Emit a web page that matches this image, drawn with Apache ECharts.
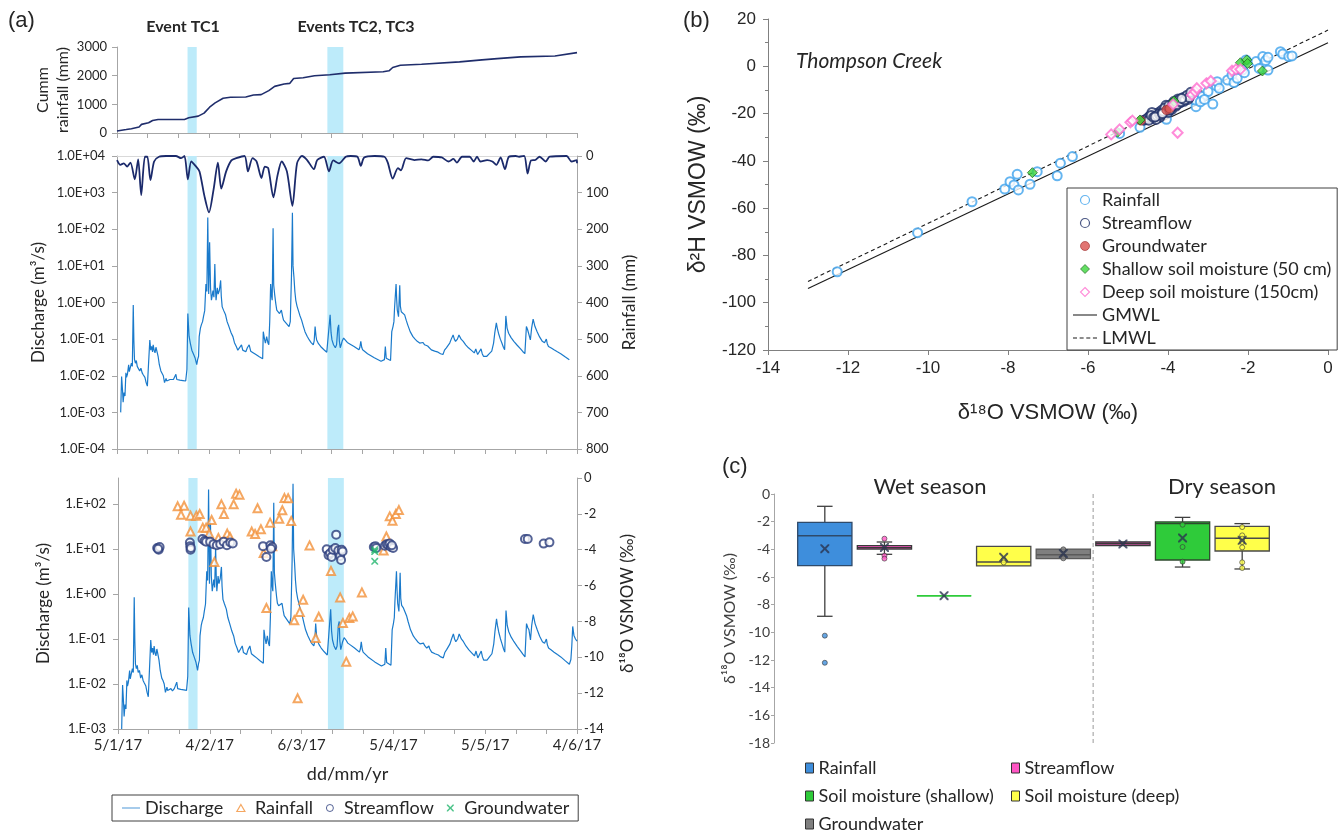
<!DOCTYPE html>
<html><head><meta charset="utf-8">
<script src="https://cdn.jsdelivr.net/npm/echarts@6.0.0/dist/echarts.min.js"></script>
<style>html,body{margin:0;padding:0;background:#fff}#chart{width:1343px;height:834px}</style>
</head><body><div id="chart"></div><script>
// ---------- Panel (a): Thompson Creek hydrology, days counted from 5 Jan 2017 ----------
const eventBands = [[23, 26], [68.6, 73.8]];

const cumRainfall = [[0,70],[3,120],[4.7,150],[7.2,208],[8,300],[8.5,357],[10.3,357],[11.6,438],[13.4,473],[22,473],[23.4,530],[26.5,588],[28.4,692],[30.2,900],[32,1050],[34.6,1211],[37,1246],[42,1257],[44.5,1327],[47,1338],[49.5,1477],[51.4,1627],[54.5,1708],[56.3,1730],[57.6,1903],[60.7,1927],[64.4,1996],[69.4,2030],[74.4,2088],[86.8,2135],[88.7,2170],[89.9,2285],[92.4,2365],[99.3,2400],[111.7,2480],[119,2550],[124,2596],[131.6,2654],[142.8,2688],[150,2803]];

const dailyRainfall = [[0,11],[1.1,24],[2.2,20],[3.3,29],[4.4,18],[5.8,64],[6.9,9],[7.9,107],[9.1,2],[9.9,2],[10.9,66],[12.1,15],[13.7,2],[16,0],[19.2,0],[20.9,6],[22,0],[23.1,64],[24.2,15],[25.6,27],[26.9,42],[28.5,109],[30,154],[31.5,91],[32.9,18],[34,89],[35.6,42],[37.3,12],[38.9,6],[41.6,0],[42.7,42],[44.2,6],[45.5,15],[47.1,60],[48.2,29],[49.3,33],[51,113],[52.3,55],[53.7,15],[55.4,42],[57.2,136],[58.7,20],[60.3,0],[62,11],[64.2,36],[65.3,11],[67.5,2],[69.1,42],[70.5,12],[72.4,20],[74.6,2],[76.2,0],[78.4,2],[79.5,27],[80.6,4],[84,0],[87.2,2],[88.3,18],[89.9,62],[91.6,33],[92.6,39],[94.3,6],[97,11],[99.3,9],[101.5,12],[103.1,2],[105.9,4],[108.1,15],[109.7,8],[110.8,18],[112.5,2],[115,2],[116.3,15],[117.4,2],[118.5,15],[120.7,11],[122.4,15],[123.7,24],[125.1,4],[126.5,36],[127.8,2],[130,0],[131.1,2],[132.8,0],[133.9,48],[135,12],[136.4,11],[137.8,2],[139.8,15],[141.1,2],[146.6,0],[148.2,15],[149.9,11],[150,20]];

const discharge = [[1.2,0.001],[1.5,0.0095],[1.8,0.004],[2.0,0.0019],[2.3,0.0035],[2.6,0.0028],[2.9,0.012],[3.1,0.009],[3.4,0.011],[3.8,0.02],[4.0,0.013],[4.3,0.012],[4.7,0.022],[5.0,0.018],[5.3,0.85],[5.5,0.09],[5.7,0.028],[6.0,0.022],[6.3,0.026],[6.6,0.018],[7.0,0.02],[7.4,0.0135],[7.8,0.016],[8.2,0.012],[8.6,0.0105],[9.1,0.009],[9.5,0.0065],[9.9,0.0052],[10.4,0.0048],[10.7,0.095],[11.0,0.05],[11.3,0.063],[11.6,0.045],[11.8,0.07],[12.1,0.05],[12.4,0.042],[12.7,0.06],[12.9,0.063],[13.2,0.04],[13.4,0.034],[13.8,0.02],[14.3,0.0135],[14.7,0.012],[15.1,0.01],[15.5,0.0065],[16.0,0.0085],[16.2,0.0072],[16.8,0.0065],[17.3,0.0079],[17.8,0.007],[18.4,0.0079],[19.2,0.011],[19.5,0.0079],[20.5,0.0076],[21.5,0.0074],[22.4,0.0072],[22.8,0.0148],[23.1,0.5],[23.5,0.12],[23.9,0.078],[24.4,0.05],[25,0.038],[25.5,0.03],[26,0.02],[26.3,0.028],[26.6,0.034],[26.8,0.117],[27.2,0.2],[27.5,0.245],[27.9,0.3],[28.2,0.41],[28.6,0.6],[29,3.2],[29.3,2],[29.6,210],[29.9,1.7],[30.2,44],[30.5,2.5],[30.8,1.15],[31.3,2.1],[31.6,1.4],[31.9,11.2],[32.1,2.5],[32.3,1.15],[32.7,2.5],[33,1.7],[33.4,2.2],[33.8,4.0],[34.0,1.5],[34.3,0.76],[34.8,0.6],[35.4,0.46],[35.9,0.3],[36.5,0.22],[37.2,0.15],[37.8,0.117],[38.3,0.08],[38.9,0.063],[39.4,0.05],[39.8,0.047],[40.6,0.07],[41.0,0.05],[41.4,0.051],[42.0,0.045],[42.5,0.058],[43.1,0.07],[43.6,0.047],[44.5,0.042],[45.3,0.038],[46.4,0.033],[47.5,0.029],[47.7,0.16],[48.1,0.1],[48.4,0.078],[48.8,0.117],[49.2,0.08],[49.5,0.07],[49.8,0.3],[50.1,3.2],[50.4,1.5],[50.6,1.15],[50.9,107],[51.1,3],[51.4,1.7],[51.8,0.9],[52.1,0.62],[52.5,0.55],[53,0.5],[53.6,0.62],[54.0,0.42],[54.3,0.33],[54.8,0.3],[55.2,0.27],[55.7,0.25],[56.1,0.22],[56.5,0.3],[56.9,5.5],[57.2,280],[57.4,10],[57.7,4.9],[58.0,2],[58.3,1.15],[58.7,0.8],[59.1,0.62],[59.6,0.45],[60.2,0.33],[60.8,0.22],[61.3,0.16],[62.0,0.12],[62.7,0.095],[63.3,0.08],[64.0,0.07],[64.3,0.09],[64.6,0.22],[64.9,0.12],[65.1,0.095],[65.7,0.075],[66.4,0.063],[67.4,0.052],[68.4,0.044],[69,0.042],[69.5,0.46],[69.8,0.15],[70.1,0.095],[70.6,0.07],[71.2,0.058],[71.6,0.07],[72.0,0.2],[72.3,0.245],[72.5,0.09],[72.8,0.058],[73.1,0.07],[73.4,0.087],[73.9,0.107],[74.5,0.095],[75.1,0.081],[75.9,0.074],[77.3,0.063],[78.9,0.051],[79.2,0.06],[79.5,0.087],[79.8,0.06],[80.1,0.051],[81.7,0.04],[83.9,0.031],[86.1,0.025],[87.2,0.0275],[87.5,0.063],[87.8,0.03],[88,0.0275],[89.2,0.026],[89.6,0.16],[90,0.22],[90.3,0.3],[90.5,0.69],[91,3.2],[91.2,1.2],[91.4,0.62],[91.8,0.41],[92.2,2.95],[92.4,0.8],[92.7,0.56],[93.2,0.5],[93.8,0.46],[94.3,0.33],[94.8,0.245],[95.6,0.16],[96.5,0.117],[97.2,0.1],[97.9,0.087],[98.3,0.095],[98.7,0.078],[99.3,0.075],[99.8,0.081],[100.3,0.07],[100.9,0.063],[101.3,0.065],[101.6,0.07],[101.9,0.06],[102.5,0.051],[103.6,0.047],[104.7,0.044],[105.5,0.04],[106.3,0.038],[106.8,0.05],[107.4,0.058],[108,0.06],[108.5,0.078],[109.0,0.1],[109.6,0.13],[110.0,0.1],[110.4,0.087],[111.0,0.1],[111.5,0.13],[112.2,0.1],[112.9,0.087],[113.7,0.07],[114.6,0.058],[115.5,0.05],[116.5,0.042],[117,0.054],[117.3,0.045],[117.6,0.038],[118.2,0.04],[118.7,0.054],[119.1,0.04],[119.5,0.034],[120.0,0.036],[120.6,0.034],[121.4,0.04],[122.2,0.047],[122.8,0.078],[123.2,0.15],[123.7,0.28],[124.0,0.2],[124.4,0.145],[125.0,0.1],[125.5,0.078],[126.0,0.06],[126.4,0.051],[126.8,0.43],[127.2,0.2],[127.7,0.145],[128.5,0.11],[129.4,0.087],[130.5,0.068],[131.6,0.054],[132.3,0.046],[133,0.04],[133.5,0.22],[133.9,0.18],[134.3,0.16],[134.8,0.095],[135.2,0.2],[135.7,0.35],[136.3,0.22],[137,0.16],[137.8,0.115],[138.7,0.087],[139.4,0.08],[140,0.1],[140.3,0.075],[140.7,0.063],[141.6,0.057],[142.5,0.051],[143.6,0.045],[144.7,0.04],[146.1,0.033],[147.5,0.0275],[148.0,0.035],[148.3,0.07],[148.6,0.19],[149.0,0.12],[149.5,0.1],[150,0.09]];
const dischargeRecordEnd = 147.5;

// δ18O of samples (‰), by sampling day
const rainfallIso = [[19.5,-1.58],[21.6,-1.55],[20.6,-2.05],[23.7,-2.1],[25.6,-2.1],[26.7,-2.01],[23.7,-2.99],[30.6,-2.34],[33.8,-1.47],[34.6,-2.01],[37.8,-1.47],[38.6,-0.88],[39.7,-0.93],[27.7,-2.77],[28.8,-2.77],[29.8,-3.1],[32.8,-3.35],[35.7,-3.1],[36.6,-3.29],[31.5,-4.68],[45.6,-1.69],[43.7,-2.99],[44.8,-3.12],[46.7,-2.86],[49.7,-2.49],[52.7,-2.27],[53.7,-1.8],[54.4,-1.12],[55.6,-1.13],[56.6,-2.4],[47.6,-4.18],[48.5,-7.25],[50.4,-3.81],[62.6,-3.76],[60.5,-6.79],[59.4,-7.47],[57.6,-7.94],[65.6,-7.74],[64.6,-8.93],[58.7,-12.29],[69.6,-5.19],[72.6,-6.66],[73.5,-8.09],[74.6,-10.25],[75.6,-7.81],[76.7,-7.72],[79.7,-6.38],[87.7,-3.26],[86.8,-4.04],[88.8,-2.14],[89.7,-2.38],[90.8,-2.01],[91.8,-1.79]];
const streamflowIso = [[12.8,-3.9],[13.3,-4.0],[13.6,-3.85],[13.1,-3.95],[23.5,-3.6],[23.6,-3.8],[23.7,-4.0],[23.8,-3.9],[27.6,-3.4],[28.3,-3.5],[28.8,-3.55],[30.1,-3.55],[31.2,-3.7],[32.3,-3.75],[33.4,-3.7],[34.5,-3.55],[35.6,-3.75],[36.7,-3.6],[37.5,-3.65],[47.4,-3.8],[48.5,-4.41],[49.8,-3.75],[50.4,-3.85],[50.0,-3.95],[68.2,-3.98],[68.8,-4.3],[69.3,-4.2],[69.8,-4.4],[70.2,-4.0],[71,-3.9],[71.3,-3.16],[72,-4.05],[72.6,-4.35],[72.9,-4.57],[73.1,-4.0],[73.4,-4.1],[83.6,-3.85],[84.1,-3.8],[84.4,-3.9],[87.2,-3.78],[87.8,-3.7],[88.3,-3.72],[88.8,-3.65],[89.2,-3.85],[89.9,-3.9],[89.5,-3.75],[133,-3.4],[133.9,-3.4],[139.1,-3.66],[141,-3.59]];
const groundwaterIso = [[83.9,-4.0],[83.9,-4.1],[83.9,-4.65]];

// ---------- Panel (b): dual-isotope plot, [δ18O, δ2H] ----------
const rainfallB = [[-12.27,-86.9],[-10.26,-70.4],[-8.9,-57.3],[-8.08,-51.9],[-7.95,-48.8],[-7.77,-45.7],[-7.85,-50.2],[-7.74,-52.3],[-7.45,-49.9],[-7.27,-44.6],[-6.77,-46.3],[-6.69,-41.0],[-6.39,-38.2],[-5.21,-28.4],[-4.70,-25.8],[-4.04,-22.4],[-3.99,-19.2],[-3.30,-17.1],[-3.32,-14.3],[-3.14,-12.8],[-3.0,-10.7],[-2.88,-16.0],[-2.79,-8.3],[-2.77,-6.5],[-2.51,-5.8],[-2.40,-3.7],[-2.35,-6.9],[-2.27,-5.1],[-2.14,-1.6],[-2.09,-2.7],[-2.05,2.7],[-1.80,2.0],[-1.72,-0.9],[-1.63,4.1],[-1.56,2.4],[-1.50,3.8],[-1.50,-1.6],[-1.19,6.2],[-1.13,5.2],[-0.98,4.1],[-0.90,4.4],[-2.72,-9.3],[-3.19,-15.0],[-3.09,-14.0],[-3.53,-12.8]];
const streamflowB = [[-4.6,-22.8],[-4.55,-22.5],[-4.5,-21.8],[-4.45,-21],[-4.4,-22],[-4.35,-20.5],[-4.3,-20],[-4.25,-21],[-4.2,-19.2],[-4.15,-18.5],[-4.1,-19.5],[-4.05,-18],[-4.0,-17.5],[-3.95,-17],[-3.9,-16.5],[-3.85,-16],[-3.8,-15.5],[-3.75,-15],[-3.7,-14.5],[-3.65,-14],[-3.6,-13.5],[-3.55,-13],[-3.5,-12.5],[-3.45,-12],[-3.4,-11.5],[-4.2,-21.5],[-4.3,-22.5],[-4.0,-19.5],[-3.9,-18.2],[-3.8,-16.8],[-3.7,-15.5],[-3.6,-14.8],[-3.75,-13.8],[-3.85,-14.8],[-4.05,-16.5],[-4.4,-19.5],[-3.5,-14],[-4.48,-22.8],[-4.42,-20.8],[-4.36,-21.6],[-4.28,-20.8],[-4.22,-20.2],[-4.18,-20.6],[-4.12,-19.0],[-4.08,-17.6],[-4.02,-18.6],[-3.98,-16.6],[-3.93,-17.8],[-3.88,-15.6],[-3.82,-15.2],[-3.78,-16.2],[-3.72,-14.2],[-3.68,-15.0],[-3.62,-13.2],[-3.58,-14.2],[-3.52,-12.2],[-3.47,-13.2],[-3.43,-11],[-4.32,-21.4],[-4.14,-20],[-3.96,-18.4],[-3.66,-13.6]];
const groundwaterB = [[-4.68,-23.0],[-4.04,-18.5],[-3.96,-17.8]];
const shallowSoilB = [[-7.39,-45.0],[-5.26,-27.9],[-4.70,-22.7],[-3.85,-14.7],[-2.19,1.5],[-2.03,2.7],[-2.01,1.2],[-1.64,-2.0]];
const deepSoilB = [[-5.42,-28.8],[-5.21,-26.7],[-4.94,-23.7],[-4.89,-23.0],[-3.87,-16.1],[-3.76,-28.1],[-3.40,-12.1],[-3.32,-10.7],[-3.28,-9.3],[-3.04,-7.2],[-2.93,-6.2],[-2.40,-1.9],[-2.30,-1.3],[-2.19,-1.3]];
const gmwl = [[-13, -94], [0, 10]];
const lmwl = [[-13, -91], [0, 15.3]];

// ---------- Panel (c): seasonal δ18O box plots ----------
const boxCategories = ['Rainfall wet','Streamflow wet','Shallow wet','Deep wet','Groundwater wet','Streamflow dry','Shallow dry','Deep dry'];
const seasonBreak = 4.5;
// [category, min, Q1, median, Q3, max]
const rainfallBox = [['Rainfall wet', -8.84, -5.18, -3.01, -2.05, -0.89]];
const streamflowBox = [['Streamflow wet', -4.36, -3.98, -3.88, -3.73, -3.47], ['Streamflow dry', -3.73, -3.73, -3.6, -3.47, -3.47]];
const shallowBox = [['Shallow wet', -7.35, -7.35, -7.35, -7.35, -7.35], ['Shallow dry', -5.28, -4.77, -2.14, -2.02, -1.69]];
const deepBox = [['Deep wet', -5.2, -5.2, -4.92, -3.78, -3.78], ['Deep dry', -5.42, -4.12, -3.2, -2.34, -2.14]];
const groundwaterBox = [['Groundwater wet', -4.67, -4.67, -4.4, -3.98, -3.98]];
const boxMeans = [['Rainfall wet',-3.95],['Streamflow wet',-3.86],['Shallow wet',-7.35],['Deep wet',-4.58],['Groundwater wet',-4.3],['Streamflow dry',-3.61],['Shallow dry',-3.18],['Deep dry',-3.35]];
const rainfallPts = [['Rainfall wet',-10.24],['Rainfall wet',-12.2]];
const streamflowPts = [['Streamflow wet',-3.23],['Streamflow wet',-4.46],['Streamflow wet',-4.67]];
const shallowPts = [['Shallow dry',-2.22],['Shallow dry',-3.83],['Shallow dry',-4.89]];
const deepPts = [['Deep wet',-4.75],['Deep wet',-4.95],['Deep dry',-2.39],['Deep dry',-2.99],['Deep dry',-3.23],['Deep dry',-3.47],['Deep dry',-3.86],['Deep dry',-4.94],['Deep dry',-5.35]];
const groundwaterPts = [['Groundwater wet',-4.0],['Groundwater wet',-4.65]];

// ---------- styling helpers ----------
const FONT = 'Lato, "Open Sans", sans-serif';
const SANS = '"Liberation Sans", Arial, sans-serif';
const TXT = '#262626';
const AX = '#A6A6A6';
const BAND = '#BDEBFA';
const X_SYMBOL = 'path://M0,0L1.6,0L5,3.4L8.4,0L10,0L10,1.6L6.6,5L10,8.4L10,10L8.4,10L5,6.6L1.6,10L0,10L0,8.4L3.4,5L0,1.6Z';
const ICON_LINE = 'path://M0,0H30V1.3H0Z';
const ICON_DASH = 'path://M0,0H5V1.3H0ZM8.3,0H13.3V1.3H8.3ZM16.6,0H21.6V1.3H16.6ZM24.9,0H30V1.3H24.9Z';
const ICON_TRI = 'path://M5,0L10,8.7L0,8.7Z';
const ICON_DIAMOND = 'path://M5,0L10,5L5,10L0,5Z';
const ICON_CIRCLE = 'path://M10,5A5,5,0,1,1,0,5A5,5,0,1,1,10,5Z';

const chart = echarts.init(document.getElementById('chart'), null, {renderer: 'canvas'});

function sciLabel(prefix) {
  return function (v) {
    const l = Math.log10(v), e = Math.round(l);
    if (Math.abs(l - e) > 1e-6) return '';
    return prefix + 'E' + (e < 0 ? '-' : '+') + String(Math.abs(e)).padStart(2, '0');
  };
}
function dayLabel(v) {
  if (Math.round(v) % 30 !== 0) return '';
  const d = new Date(Date.UTC(2017, 0, 5 + Math.round(v)));
  return d.getUTCDate() + '/' + (d.getUTCMonth() + 1) + '/17';
}
function bandArea() {
  return {silent: true, itemStyle: {color: BAND}, data: eventBands.map(b => [{xAxis: b[0]}, {xAxis: b[1]}])};
}
function dayAxis(grid, extra) {
  return Object.assign({
    type: 'value', gridIndex: grid, min: 0, max: 150, interval: 10,
    axisLine: {show: true, onZero: false, lineStyle: {color: AX}},
    axisTick: {show: true, length: 5, lineStyle: {color: AX}},
    axisLabel: {show: false}, splitLine: {show: false}
  }, extra || {});
}
function aYAxis(extra) {
  return Object.assign({
    axisLine: {show: true, onZero: false, lineStyle: {color: AX}},
    axisTick: {show: true, length: 5, lineStyle: {color: AX}},
    axisLabel: {color: TXT, fontFamily: FONT, fontSize: 13, margin: 10},
    splitLine: {show: false},
    nameLocation: 'middle',
    nameTextStyle: {color: TXT, fontFamily: FONT, fontSize: 17}
  }, extra);
}
function makeBoxRenderer(fill, stroke) {
  return function (params, api) {
    const cat = api.value(0);
    const ys = [1, 2, 3, 4, 5].map(i => api.coord([cat, api.value(i)])[1]);
    const cx = api.coord([cat, api.value(1)])[0];
    const band = api.size([1, 0])[0];
    const half = band * 0.455, cap = band * 0.13;
    const whisk = {stroke: '#404040', lineWidth: 1.3};
    const flat = Math.abs(ys[0] - ys[4]) < 0.5;
    const edge = flat ? fill : stroke;
    const kids = [];
    if (!flat) {
      if (Math.abs(ys[4] - ys[3]) > 0.5) {
        kids.push({type: 'line', shape: {x1: cx, y1: ys[4], x2: cx, y2: ys[3]}, style: whisk});
        kids.push({type: 'line', shape: {x1: cx - cap, y1: ys[4], x2: cx + cap, y2: ys[4]}, style: whisk});
      }
      if (Math.abs(ys[0] - ys[1]) > 0.5) {
        kids.push({type: 'line', shape: {x1: cx, y1: ys[1], x2: cx, y2: ys[0]}, style: whisk});
        kids.push({type: 'line', shape: {x1: cx - cap, y1: ys[0], x2: cx + cap, y2: ys[0]}, style: whisk});
      }
    }
    kids.push({type: 'rect', shape: {x: cx - half, y: ys[3], width: 2 * half, height: Math.max(ys[1] - ys[3], 0)},
      style: {fill: fill, stroke: edge, lineWidth: flat ? 1.6 : 1.3}});
    kids.push({type: 'line', shape: {x1: cx - half, y1: ys[2], x2: cx + half, y2: ys[2]}, style: {stroke: edge, lineWidth: 1.5}});
    return {type: 'group', children: kids};
  };
}
function boxSeries(name, data, fill, stroke) {
  return {name: name, type: 'custom', xAxisIndex: 5, yAxisIndex: 6, data: data,
    encode: {x: 0, y: [1, 2, 3, 4, 5]},
    itemStyle: {color: fill, borderColor: stroke},
    renderItem: makeBoxRenderer(fill, stroke), z: 2};
}
function ptsSeries(name, data, fill) {
  return {name: name, type: 'scatter', xAxisIndex: 5, yAxisIndex: 6, data: data, symbol: 'circle', symbolSize: 5,
    itemStyle: {color: fill, borderColor: '#3a3a3a', borderWidth: 0.8}, z: 4};
}
function boxLegendItem(name, fill) {
  return {name: name, icon: 'rect', itemStyle: {color: fill, borderColor: '#333', borderWidth: 1}};
}

const C_COLORS = {
  rain: ['#3E8EDC', '#2E4A6A'], stream: ['#FF55C4', '#3A3A3A'], shallow: ['#2FCB3A', '#2E4A2E'],
  deep: ['#FFFF4A', '#4A4A4A'], gw: ['#7F7F7F', '#5A5A5A']
};
const A_COLORS = {discharge: '#1A7ACB', rain: '#F39139', stream: '#2B3C7C', gw: '#23B56E'};
const B_COLORS = {rain: '#3EA2EC', stream: '#1F2F66', gw: '#D9534F', shallow: '#3CD63C', deep: '#FF6FD0'};

const option = {
  animation: false,
  backgroundColor: '#ffffff',
  textStyle: {fontFamily: FONT, color: TXT},
  grid: [
    {left: 117, top: 47, width: 460, height: 86},
    {left: 117, top: 156, width: 460, height: 293},
    {left: 118, top: 478, width: 459, height: 251},
    {left: 768, top: 19, width: 560, height: 331},
    {left: 795, top: 494, width: 477, height: 249}
  ],
  xAxis: [
    dayAxis(0),
    dayAxis(1),
    dayAxis(1, {position: 'top', axisTick: {show: false}, axisLine: {show: true, onZero: false, lineStyle: {color: '#D9D9D9'}}}),
    dayAxis(2, {axisLabel: {show: true, formatter: dayLabel, color: TXT, fontFamily: FONT, fontSize: 15, margin: 9, showMinLabel: true, showMaxLabel: true},
      name: 'dd/mm/yr', nameLocation: 'middle', nameGap: 36, nameTextStyle: {color: TXT, fontFamily: FONT, fontSize: 18}}),
    {type: 'value', gridIndex: 3, min: -14, max: 0, interval: 2,
      axisLine: {show: true, onZero: false, lineStyle: {color: '#808080'}},
      axisTick: {show: true, length: 5, lineStyle: {color: '#808080'}},
      axisLabel: {color: TXT, fontFamily: SANS, fontSize: 17, margin: 10},
      splitLine: {show: false},
      name: 'δ¹⁸O VSMOW (‰)', nameLocation: 'middle', nameGap: 52,
      nameTextStyle: {color: TXT, fontFamily: SANS, fontSize: 22}},
    {type: 'category', gridIndex: 4, data: boxCategories, show: false, boundaryGap: true},
    {type: 'value', gridIndex: 4, min: -0.5, max: boxCategories.length - 0.5, show: false}
  ],
  yAxis: [
    aYAxis({type: 'value', gridIndex: 0, min: 0, max: 3000, interval: 1000, name: 'Cumm\nrainfall (mm)', nameGap: 40,
      axisLabel: {color: TXT, fontFamily: FONT, fontSize: 13, margin: 10, formatter: v => String(v)},
      nameTextStyle: {color: TXT, fontFamily: FONT, fontSize: 16, lineHeight: 20}}),
    aYAxis({type: 'log', logBase: 10, gridIndex: 1, min: 1e-4, max: 1e4, splitNumber: 8,
      axisLabel: {color: TXT, fontFamily: FONT, fontSize: 13, margin: 12, formatter: sciLabel('1.0')},
      name: 'Discharge (m³/s)', nameGap: 70}),
    aYAxis({type: 'value', gridIndex: 1, position: 'right', inverse: true, min: 0, max: 800, interval: 100,
      axisLabel: {color: TXT, fontFamily: FONT, fontSize: 13, margin: 9},
      name: 'Rainfall (mm)', nameGap: 44}),
    aYAxis({type: 'log', logBase: 10, gridIndex: 2, min: 1e-3, max: 378, splitNumber: 6,
      axisLabel: {color: TXT, fontFamily: FONT, fontSize: 13, margin: 12, formatter: sciLabel('1.'), showMaxLabel: false},
      name: 'Discharge (m³/s)', nameGap: 66}),
    aYAxis({type: 'value', gridIndex: 2, position: 'right', min: -14, max: 0, interval: 2,
      axisLabel: {color: TXT, fontFamily: FONT, fontSize: 13, margin: 7},
      name: 'δ¹⁸O VSMOW (‰)', nameGap: 42}),
    {type: 'value', gridIndex: 3, min: -120, max: 20, interval: 20,
      axisLine: {show: true, onZero: false, lineStyle: {color: '#808080'}},
      axisTick: {show: true, length: 5, lineStyle: {color: '#808080'}},
      minorTick: {show: true, splitNumber: 2, length: 3, lineStyle: {color: '#808080'}},
      axisLabel: {color: TXT, fontFamily: SANS, fontSize: 17, margin: 12},
      splitLine: {show: false},
      name: 'δ²H VSMOW (‰)', nameLocation: 'middle', nameGap: 58,
      nameTextStyle: {color: TXT, fontFamily: SANS, fontSize: 23}},
    {type: 'value', gridIndex: 4, min: -18, max: 0, interval: 2, offset: 21,
      axisLine: {show: true, onZero: false, lineStyle: {color: '#A6A6A6'}},
      axisTick: {show: true, length: 3, lineStyle: {color: '#A6A6A6'}},
      axisLabel: {color: '#404040', fontFamily: FONT, fontSize: 14, margin: 4},
      splitLine: {show: false},
      name: 'δ¹⁸O VSMOW (‰)', nameLocation: 'middle', nameGap: 36,
      nameTextStyle: {color: '#404040', fontFamily: FONT, fontSize: 16}}
  ],
  legend: [
    {data: [
        {name: 'a|Discharge', icon: ICON_LINE},
        {name: 'a|Rainfall', icon: ICON_TRI, itemStyle: {color: '#fff', borderColor: A_COLORS.rain, borderWidth: 1.2}},
        {name: 'a|Streamflow', icon: ICON_CIRCLE, itemStyle: {color: '#fff', borderColor: A_COLORS.stream, borderWidth: 1}},
        {name: 'a|Groundwater', icon: X_SYMBOL, itemStyle: {color: A_COLORS.gw, borderWidth: 0}}],
      formatter: n => n.split('|')[1], symbolKeepAspect: true,
      left: 112, top: 795, orient: 'horizontal', selectedMode: false,
      borderColor: '#404040', borderWidth: 1, padding: [4, 9, 4, 10], itemGap: 13, itemWidth: 18, itemHeight: 7,
      textStyle: {color: TXT, fontFamily: FONT, fontSize: 18}},
    {data: [
        {name: 'b|Rainfall', icon: ICON_CIRCLE, itemStyle: {color: '#fff', borderColor: B_COLORS.rain, borderWidth: 1.2}},
        {name: 'b|Streamflow', icon: ICON_CIRCLE, itemStyle: {color: '#fff', borderColor: B_COLORS.stream, borderWidth: 1.2}},
        {name: 'b|Groundwater', icon: ICON_CIRCLE, itemStyle: {color: B_COLORS.gw, borderColor: '#9E3030', borderWidth: 0.8}},
        {name: 'b|Shallow soil moisture (50 cm)', icon: ICON_DIAMOND, itemStyle: {color: B_COLORS.shallow, borderColor: '#1D5E1D', borderWidth: 0.8}},
        {name: 'b|Deep soil moisture (150cm)', icon: ICON_DIAMOND, itemStyle: {color: '#fff', borderColor: B_COLORS.deep, borderWidth: 1.1}},
        {name: 'b|GMWL', icon: ICON_LINE, itemStyle: {color: '#1a1a1a', borderWidth: 0}},
        {name: 'b|LMWL', icon: ICON_DASH, itemStyle: {color: '#1a1a1a', borderWidth: 0}}],
      formatter: n => n.split('|')[1], symbolKeepAspect: true,
      left: 1067, top: 188, orient: 'vertical', selectedMode: false,
      borderColor: '#404040', borderWidth: 1, padding: [3, 6, 3, 6], itemGap: 5, itemWidth: 24, itemHeight: 9,
      textStyle: {color: TXT, fontFamily: FONT, fontSize: 18, lineHeight: 18}},
    {data: [
        boxLegendItem('c|Rainfall', C_COLORS.rain[0]),
        boxLegendItem('c|Soil moisture (shallow)', C_COLORS.shallow[0]),
        boxLegendItem('c|Groundwater', C_COLORS.gw[0])],
      formatter: n => n.split('|')[1], left: 805, top: 759, orient: 'vertical', selectedMode: false,
      padding: 0, itemGap: 10, itemWidth: 8, itemHeight: 10,
      textStyle: {color: TXT, fontFamily: FONT, fontSize: 18}},
    {data: [
        boxLegendItem('c|Streamflow', C_COLORS.stream[0]),
        boxLegendItem('c|Soil moisture (deep)', C_COLORS.deep[0])],
      formatter: n => n.split('|')[1], left: 1011, top: 759, orient: 'vertical', selectedMode: false,
      padding: 0, itemGap: 10, itemWidth: 8, itemHeight: 10,
      textStyle: {color: TXT, fontFamily: FONT, fontSize: 18}}
  ],
  graphic: [
    {type: 'text', x: 8, y: 10, style: {text: '(a)', font: '22px ' + SANS, fill: TXT}},
    {type: 'text', x: 683, y: 10, style: {text: '(b)', font: '22px ' + SANS, fill: TXT}},
    {type: 'text', x: 722, y: 456, style: {text: '(c)', font: '22px ' + SANS, fill: TXT}},
    {type: 'text', x: 183, y: 27, style: {text: 'Event TC1', font: 'bold 16px ' + FONT, fill: TXT, align: 'center', verticalAlign: 'middle', textAlign: 'center', textVerticalAlign: 'middle'}},
    {type: 'text', x: 356, y: 27, style: {text: 'Events TC2, TC3', font: 'bold 16px ' + FONT, fill: TXT, align: 'center', verticalAlign: 'middle', textAlign: 'center', textVerticalAlign: 'middle'}},
    {type: 'text', x: 796, y: 61, style: {text: 'Thompson Creek', font: 'italic 21px ' + FONT, fill: TXT, verticalAlign: 'middle', textVerticalAlign: 'middle'}},
    {type: 'text', x: 930, y: 487, style: {text: 'Wet season', font: '22px ' + FONT, fill: TXT, align: 'center', verticalAlign: 'middle', textAlign: 'center', textVerticalAlign: 'middle'}},
    {type: 'text', x: 1222, y: 487, style: {text: 'Dry season', font: '22px ' + FONT, fill: TXT, align: 'center', verticalAlign: 'middle', textAlign: 'center', textVerticalAlign: 'middle'}}
  ],
  series: [
    // (a) cumulative rainfall
    {name: 'a1|Cumulative rainfall', type: 'line', xAxisIndex: 0, yAxisIndex: 0, data: cumRainfall, symbol: 'none',
      lineStyle: {color: '#1F2D6B', width: 1.6}, markArea: bandArea(), z: 3},
    // (a) discharge with inverted daily rainfall
    {name: 'a2|Discharge', type: 'line', xAxisIndex: 1, yAxisIndex: 1, data: discharge.filter(p => p[0] <= dischargeRecordEnd),
      symbol: 'none', lineStyle: {color: A_COLORS.discharge, width: 1.2}, markArea: bandArea(), z: 3},
    {name: 'a2|Rainfall', type: 'line', xAxisIndex: 1, yAxisIndex: 2, data: dailyRainfall, symbol: 'none', smooth: 0.25,
      lineStyle: {color: '#1B2A6B', width: 1.8}, z: 4},
    // (a) discharge with δ18O of samples
    {name: 'a|Discharge', type: 'line', xAxisIndex: 3, yAxisIndex: 3, data: discharge, symbol: 'none',
      lineStyle: {color: A_COLORS.discharge, width: 1.2}, itemStyle: {color: A_COLORS.discharge}, markArea: bandArea(), z: 3},
    {name: 'a|Rainfall', type: 'scatter', xAxisIndex: 3, yAxisIndex: 4, data: rainfallIso, symbol: 'emptyTriangle', symbolSize: 8,
      itemStyle: {color: A_COLORS.rain, borderWidth: 1.3}, z: 5},
    {name: 'a|Streamflow', type: 'scatter', xAxisIndex: 3, yAxisIndex: 4, data: streamflowIso, symbol: 'emptyCircle', symbolSize: 8,
      itemStyle: {color: A_COLORS.stream, borderWidth: 1.1}, z: 5},
    {name: 'a|Groundwater', type: 'scatter', xAxisIndex: 3, yAxisIndex: 4, data: groundwaterIso, symbol: X_SYMBOL, symbolSize: 7,
      itemStyle: {color: A_COLORS.gw}, z: 6},
    // (b) meteoric water lines and samples
    {name: 'b|GMWL', type: 'line', xAxisIndex: 4, yAxisIndex: 5, data: gmwl, symbol: 'none',
      lineStyle: {color: '#1a1a1a', width: 1.1}, itemStyle: {color: '#1a1a1a'}, z: 2},
    {name: 'b|LMWL', type: 'line', xAxisIndex: 4, yAxisIndex: 5, data: lmwl, symbol: 'none',
      lineStyle: {color: '#1a1a1a', width: 1.1, type: [4, 3]}, itemStyle: {color: '#1a1a1a'}, z: 2},
    {name: 'b|Rainfall', type: 'scatter', xAxisIndex: 4, yAxisIndex: 5, data: rainfallB, symbol: 'emptyCircle', symbolSize: 9,
      itemStyle: {color: B_COLORS.rain, borderWidth: 1.3}, z: 4},
    {name: 'b|Streamflow', type: 'scatter', xAxisIndex: 4, yAxisIndex: 5, data: streamflowB, symbol: 'emptyCircle', symbolSize: 9,
      itemStyle: {color: B_COLORS.stream, borderWidth: 1.3}, z: 5},
    {name: 'b|Groundwater', type: 'scatter', xAxisIndex: 4, yAxisIndex: 5, data: groundwaterB, symbol: 'circle', symbolSize: 9,
      itemStyle: {color: B_COLORS.gw, borderColor: '#9E3030', borderWidth: 0.8}, z: 6},
    {name: 'b|Shallow soil moisture (50 cm)', type: 'scatter', xAxisIndex: 4, yAxisIndex: 5, data: shallowSoilB, symbol: 'diamond', symbolSize: 10,
      itemStyle: {color: B_COLORS.shallow, borderColor: '#1D5E1D', borderWidth: 0.9}, z: 7},
    {name: 'b|Deep soil moisture (150cm)', type: 'scatter', xAxisIndex: 4, yAxisIndex: 5, data: deepSoilB, symbol: 'emptyDiamond', symbolSize: 10,
      itemStyle: {color: B_COLORS.deep, borderWidth: 1.2}, z: 7},
    // (c) seasonal box plots
    {name: 'c|divider', type: 'line', xAxisIndex: 6, yAxisIndex: 6, data: [[seasonBreak, 0], [seasonBreak, -18]], symbol: 'none',
      lineStyle: {color: '#9A9A9A', width: 1, type: [4, 3]}, silent: true, z: 1},
    boxSeries('c|Rainfall', rainfallBox, C_COLORS.rain[0], C_COLORS.rain[1]),
    boxSeries('c|Streamflow', streamflowBox, C_COLORS.stream[0], C_COLORS.stream[1]),
    boxSeries('c|Soil moisture (shallow)', shallowBox, C_COLORS.shallow[0], C_COLORS.shallow[1]),
    boxSeries('c|Soil moisture (deep)', deepBox, C_COLORS.deep[0], C_COLORS.deep[1]),
    boxSeries('c|Groundwater', groundwaterBox, C_COLORS.gw[0], C_COLORS.gw[1]),
    ptsSeries('c|Rainfall points', rainfallPts, C_COLORS.rain[0]),
    ptsSeries('c|Streamflow points', streamflowPts, C_COLORS.stream[0]),
    ptsSeries('c|Shallow points', shallowPts, C_COLORS.shallow[0]),
    ptsSeries('c|Deep points', deepPts, C_COLORS.deep[0]),
    ptsSeries('c|Groundwater points', groundwaterPts, C_COLORS.gw[0]),
    {name: 'c|Mean', type: 'scatter', xAxisIndex: 5, yAxisIndex: 6, data: boxMeans, symbol: X_SYMBOL, symbolSize: 9,
      itemStyle: {color: '#2A3550'}, z: 6}
  ]
};
chart.setOption(option);
</script></body></html>
